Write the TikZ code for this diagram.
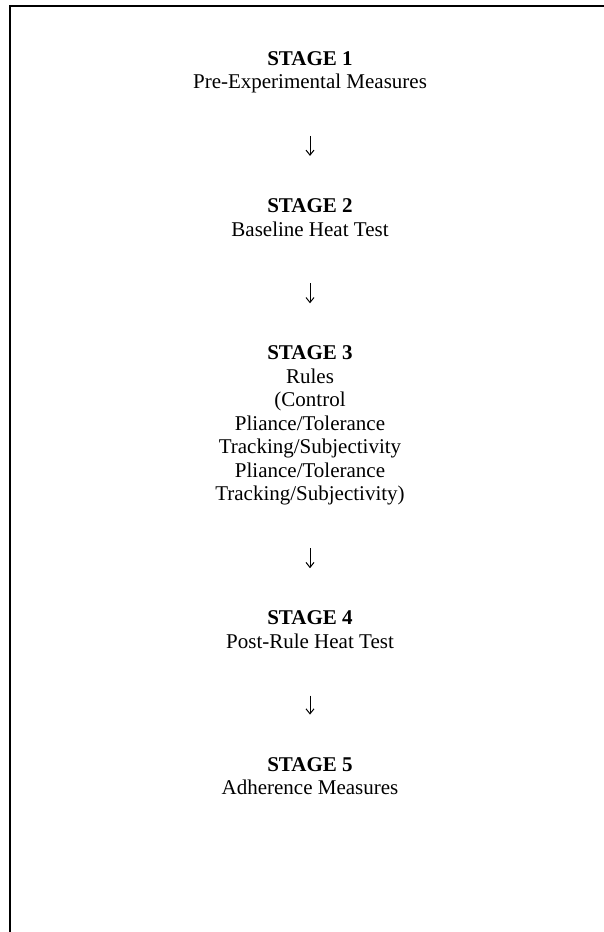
\documentclass[tikz,border=0pt]{standalone}
\usepackage{fontspec}
\setmainfont{Liberation Serif}
\usepackage{tikz}
\usetikzlibrary{positioning, arrows.meta}

\begin{document}
\begin{tikzpicture}[x=1pt, y=1pt,
  stage/.style = {align=center, inner sep=0pt, font=\fontsize{21}{23.5}\selectfont},
  arr/.style = {-{Straight Barb[length=5pt, width=8pt]}, line width=1pt, shorten <=40pt, shorten >=40pt} ]

\useasboundingbox (0,0) rectangle (604,-932);

%--- Frame ---
\draw[line width=2.6pt, line join=miter] (604,-6) -- (10,-6) -- (10,-932);

%--- Nodes ---
% s1
\node[stage, anchor=north] (s1) at (310,-48.5) {\strut\textbf{STAGE 1}\\Pre-Experimental Measures\strut};

% s2
\node[stage, below=100pt of s1] (s2) {\strut\textbf{STAGE 2}\\Baseline Heat Test\strut};

% s3
\node[stage, below=100pt of s2] (s3) {\strut\textbf{STAGE 3}\\Rules\\(Control\\Pliance/Tolerance\\Tracking/Subjectivity\\Pliance/Tolerance\\Tracking/Subjectivity)\strut};

% s4
\node[stage, below=100pt of s3] (s4) {\strut\textbf{STAGE 4}\\Post-Rule Heat Test\strut};

% s5
\node[stage, below=99pt of s4] (s5) {\strut\textbf{STAGE 5}\\Adherence Measures\strut};

%--- Arrows ---
\draw[arr] (s1) -- (s2);
\draw[arr] (s2) -- (s3);
\draw[arr] (s3) -- (s4);
\draw[arr] (s4) -- (s5);

\end{tikzpicture}
\end{document}
